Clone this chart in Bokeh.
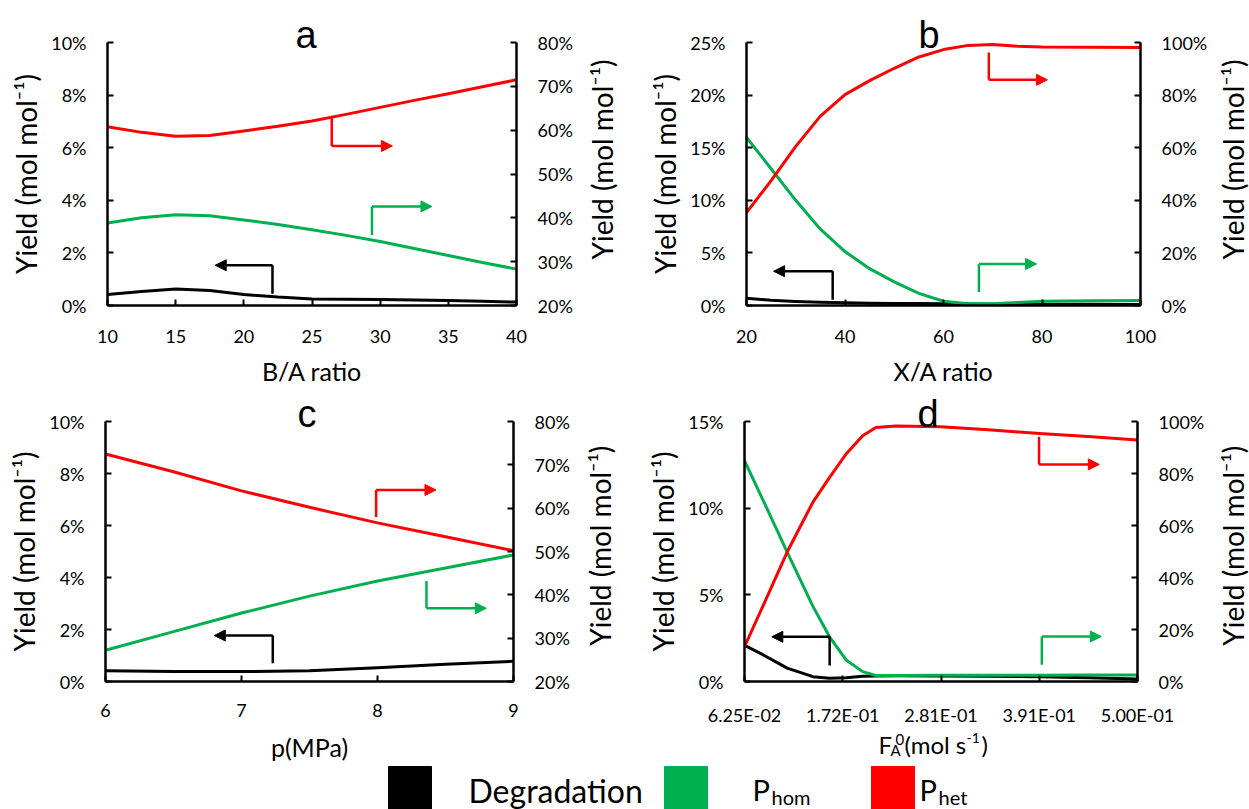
import math
from bokeh.plotting import figure
from bokeh.models import (Range1d, LinearAxis, FixedTicker, PrintfTickFormatter,
                          Arrow, NormalHead, ColumnDataSource)
from bokeh.layouts import column, row
from bokeh.embed import file_html
from bokeh.resources import INLINE
from bokeh.core.properties import value

FONT = "Lato"
TITLE_FONT = "Liberation Sans"
RED = "#FF0000"
GREEN = "#00B050"
BLACK = "#000000"

# ---------------- data (yields in %) ----------------
# panel a : B/A ratio
a_x = [10, 12.5, 15, 17.5, 20, 22.5, 25, 27.5, 30, 32.5, 35, 37.5, 40]
a_deg = [0.42, 0.53, 0.63, 0.57, 0.42, 0.32, 0.25, 0.24, 0.23, 0.21, 0.19, 0.16, 0.13]
a_hom = [38.8, 40.0, 40.7, 40.5, 39.5, 38.5, 37.3, 36.0, 34.6, 33.0, 31.4, 29.8, 28.3]
a_het = [60.8, 59.5, 58.6, 58.8, 59.8, 60.9, 62.1, 63.6, 65.2, 66.8, 68.3, 69.9, 71.5]

# panel b : X/A ratio
b_x = [20, 25, 30, 35, 40, 45, 50, 55, 60, 65, 70, 75, 80, 90, 100]
b_deg = [0.69, 0.50, 0.38, 0.30, 0.25, 0.22, 0.20, 0.18, 0.16, 0.14, 0.13, 0.12, 0.12, 0.11, 0.10]
b_hom = [63.9, 52.0, 40.0, 29.0, 20.5, 14.0, 9.0, 4.6, 1.6, 0.7, 0.7, 1.1, 1.6, 1.8, 1.9]
b_het = [35.3, 47.5, 60.5, 72.0, 80.2, 85.5, 90.2, 94.5, 97.3, 98.9, 99.2, 98.6, 98.3, 98.2, 98.1]

# panel c : p (MPa)
c_x = [6, 6.5, 7, 7.5, 8, 8.5, 9]
c_deg = [0.41, 0.38, 0.38, 0.41, 0.53, 0.66, 0.78]
c_hom = [27.2, 31.5, 35.8, 39.7, 43.2, 46.2, 49.2]
c_het = [72.5, 68.4, 64.0, 60.2, 56.6, 53.4, 50.2]

# panel d : F_A0 (mol/s)
d_x = [0.0625, 0.0835, 0.110, 0.1387, 0.1572, 0.1756, 0.194, 0.2087, 0.231, 0.281, 0.334, 0.391, 0.445, 0.5]
d_deg = [2.09, 1.53, 0.77, 0.28, 0.19, 0.22, 0.30, 0.32, 0.33, 0.32, 0.30, 0.27, 0.22, 0.15]
d_hom = [84.9, 69.5, 49.8, 28.9, 17.2, 8.3, 3.8, 2.3, 2.3, 2.4, 2.4, 2.4, 2.5, 2.5]
d_het = [13.4, 29.4, 49.8, 69.0, 78.5, 87.5, 94.5, 97.7, 98.3, 98.0, 96.8, 95.4, 94.2, 92.9]
d_ticks = [0.0625, 0.171875, 0.28125, 0.390625, 0.5]
d_tick_labels = ["6.25E-02", "1.72E-01", "2.81E-01", "3.91E-01", "5.00E-01"]

legend_names = ["Degradation", "P", "P"]
legend_subs = ["", "hom", "het"]
legend_colors = [BLACK, GREEN, RED]

YLABEL = "Yield (mol mol\u207b\u00b9)"


def style_axis(ax, label_size):
    ax.axis_line_width = 2.5
    ax.axis_line_color = BLACK
    ax.major_tick_in = 6
    ax.major_tick_out = 0
    ax.major_tick_line_width = 2
    ax.major_tick_line_color = BLACK
    ax.minor_tick_line_color = None
    ax.major_label_text_font = FONT
    ax.major_label_text_font_size = "18px"
    ax.major_label_text_color = BLACK
    ax.major_label_standoff = 21
    ax.axis_label_text_font = FONT
    ax.axis_label_text_font_size = label_size
    ax.axis_label_text_font_style = "normal"
    ax.axis_label_text_color = BLACK


def blank(p):
    p.xgrid.visible = False
    p.ygrid.visible = False
    p.outline_line_color = None
    p.background_fill_color = "white"
    p.border_fill_color = "white"


def panel(x, deg, hom, het, xr, xticks, yl, ylticks, yr, yrticks, size, borders,
          title, title_dx, xlabel, arrows, tick_standoff=24):
    w, h = size
    bl, br, bt, bb = borders
    p = figure(width=w, height=h, x_range=Range1d(*xr), y_range=Range1d(*yl),
               output_backend="svg", toolbar_location=None, title=title,
               min_border_left=bl, min_border_right=br, min_border_top=bt,
               min_border_bottom=bb, x_axis_type=None, y_axis_type=None)
    p.title.align = "left"
    p.title.vertical_align = "middle"
    p.title.standoff = -28
    p.title.offset = title_dx
    p.title.text_font = TITLE_FONT
    p.title.text_font_size = "38px"
    p.title.text_font_style = "normal"
    p.title.text_color = BLACK
    blank(p)
    p.extra_y_ranges = {"right": Range1d(*yr)}

    xa = LinearAxis(ticker=FixedTicker(ticks=xticks))
    style_axis(xa, "25px")
    xa.major_label_standoff = tick_standoff
    if xlabel:
        xa.axis_label = xlabel
    xa.axis_label_standoff = 10
    p.add_layout(xa, "below")

    ya = LinearAxis(ticker=FixedTicker(ticks=ylticks), formatter=PrintfTickFormatter(format="%d%%"),
                    axis_label=YLABEL)
    style_axis(ya, "28px")
    ya.axis_label_standoff = 5
    p.add_layout(ya, "left")

    yra = LinearAxis(y_range_name="right", ticker=FixedTicker(ticks=yrticks),
                     formatter=PrintfTickFormatter(format="%d%%"))
    style_axis(yra, "28px")
    p.add_layout(yra, "right")

    src = ColumnDataSource(dict(x=x, deg=deg, hom=hom, het=het))
    p.line("x", "deg", source=src, line_color=BLACK, line_width=3, line_join="round")
    p.line("x", "hom", source=src, line_color=GREEN, line_width=3, line_join="round",
           y_range_name="right")
    p.line("x", "het", source=src, line_color=RED, line_width=3, line_join="round",
           y_range_name="right")

    # axis indicator arrows: (color, range, x0, y0, y1, x1)
    for col, rng, x0, y0, y1, x1 in arrows:
        p.add_layout(Arrow(end=None, x_start=x0, y_start=y0, x_end=x0, y_end=y1,
                           line_color=col, line_width=2.5, y_range_name=rng))
        p.add_layout(Arrow(end=NormalHead(size=11, fill_color=col, line_color=col, line_width=1),
                           x_start=x0, y_start=y1, x_end=x1, y_end=y1,
                           line_color=col, line_width=2.5, y_range_name=rng))
    return p


def right_title(width, height, cx, cy):
    """narrow strip carrying the right-hand axis title, reading bottom to top"""
    s = figure(width=width, height=height, x_range=Range1d(0, width), y_range=Range1d(0, height),
               output_backend="svg", toolbar_location=None, min_border=0,
               x_axis_type=None, y_axis_type=None)
    blank(s)
    s.text(x=[cx], y=[cy], text=[YLABEL], angle=math.pi / 2, text_font=value(FONT),
           text_font_size=value("28px"), text_color=BLACK, text_align=value("center"),
           text_baseline=value("middle"))
    return s


pa = panel(a_x, a_deg, a_hom, a_het, (10, 40), [10, 15, 20, 25, 30, 35, 40],
           (0, 10), [0, 2, 4, 6, 8, 10], (20, 80), [20, 30, 40, 50, 60, 70, 80],
           (580, 390), (107, 64, 42, 85), "a", 188, "B/A ratio",
           [(RED, "right", 26.45, 63.0, 56.4, 30.9),
            (GREEN, "right", 29.4, 36.1, 42.6, 33.8),
            (BLACK, "default", 22.1, 0.45, 1.53, 17.9)])

pb = panel(b_x, b_deg, b_hom, b_het, (20, 100), [20, 40, 60, 80, 100],
           (0, 25), [0, 5, 10, 15, 20, 25], (0, 100), [0, 20, 40, 60, 80, 100],
           (584, 390), (118, 72, 41, 85), "b", 172, "X/A ratio",
           [(RED, "right", 69.2, 96.2, 85.8, 81.1),
            (GREEN, "right", 67.2, 5.1, 15.8, 78.9),
            (BLACK, "default", 37.5, 0.54, 3.26, 25.5)])

pc = panel(c_x, c_deg, c_hom, c_het, (6, 9), [6, 7, 8, 9],
           (0, 10), [0, 2, 4, 6, 8, 10], (20, 80), [20, 30, 40, 50, 60, 70, 80],
           (580, 338), (105, 67, 30, 45), "c", 192, None,
           [(RED, "right", 7.99, 57.96, 64.2, 8.43),
            (GREEN, "right", 8.36, 43.2, 36.9, 8.80),
            (BLACK, "default", 7.23, 0.70, 1.77, 6.80)], tick_standoff=22)

pd = panel(d_x, d_deg, d_hom, d_het, (0.0625, 0.5), d_ticks,
           (0, 15), [0, 5, 10, 15], (0, 100), [0, 20, 40, 60, 80, 100],
           (584, 338), (116, 75, 31, 45), "d", 173, None,
           [(RED, "right", 0.3904, 94.1, 83.5, 0.4575),
            (GREEN, "right", 0.3935, 6.4, 17.3, 0.4597),
            (BLACK, "default", 0.1573, 0.92, 2.58, 0.0929)], tick_standoff=22)
pd.below[0].major_label_overrides = {t: s for t, s in zip(d_ticks, d_tick_labels)}

sa = right_title(48, 390, 21, 216.5)
sb = right_title(37, 390, 20, 216.5)
sc = right_title(48, 338, 19, 176.5)
sd = right_title(37, 338, 20, 176.5)

# ---------------- bottom strip: x titles of c and d + legend ----------------
pl = figure(width=1249, height=81, x_range=Range1d(0, 1249), y_range=Range1d(0, 81),
            output_backend="svg", toolbar_location=None, min_border=0,
            x_axis_type=None, y_axis_type=None)
blank(pl)

# x title of panel c
pl.text(x=[309], y=[63], text=["p(MPa)"], text_font=value(FONT), text_font_size=value("25px"),
        text_color=BLACK, text_align=value("center"), text_baseline=value("alphabetic"))
# x title of panel d, built from pieces for the sub/superscripts
d_title = [("F", "24px", 878, 65), ("A", "15px", 890, 60), ("0", "15px", 895, 70),
           ("(mol s", "24px", 904, 65), ("-1", "14px", 966, 72), (")", "24px", 981, 65)]
for txt, sz, tx, ty in d_title:
    pl.text(x=[tx], y=[ty], text=[txt], text_font=value(FONT), text_font_size=value(sz),
            text_color=BLACK, text_baseline=value("alphabetic"))

# legend
sq_left = [388, 664, 871]
txt_x = [468, 752, 919]
pl.quad(left=sq_left, right=[v + 43 for v in sq_left], top=[43] * 3, bottom=[-10] * 3,
        fill_color=legend_colors, line_color=legend_colors)
pl.text(x=txt_x[:1], y=[19], text=legend_names[:1], text_font=value(FONT),
        text_font_size=value("32px"), text_color=BLACK, text_baseline=value("alphabetic"))
pl.text(x=txt_x[1:], y=[20, 20], text=legend_names[1:], text_font=value(FONT),
        text_font_size=value("29px"), text_color=BLACK, text_baseline=value("alphabetic"))
pl.text(x=[v + 19 for v in txt_x[1:]], y=[13, 13], text=legend_subs[1:], text_font=value(FONT),
        text_font_size=value("20px"), text_color=BLACK, text_baseline=value("alphabetic"))

layout = column(row(pa, sa, pb, sb), row(pc, sc, pd, sd), pl)
open("out.html", "w").write(file_html(layout, INLINE))
